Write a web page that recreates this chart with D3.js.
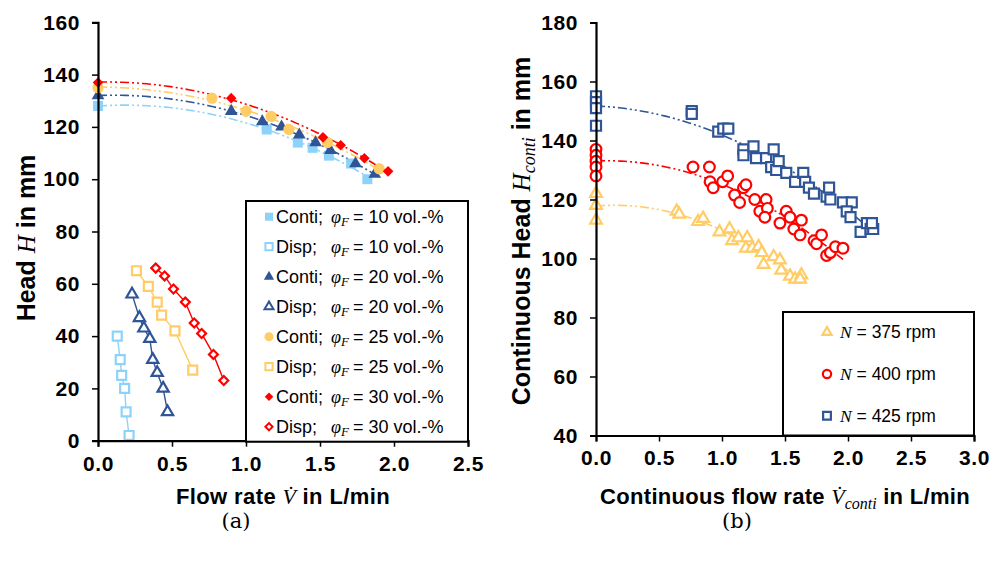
<!DOCTYPE html>
<html>
<head>
<meta charset="utf-8">
<script src="https://cdn.jsdelivr.net/npm/d3@7"></script>
<style>
  body { margin: 0; background: #fff; }
  svg text { font-family: "Liberation Sans", Arial, sans-serif; }
</style>
</head>
<body>
<svg id="drawing_region" width="992" height="565"></svg>
<script>
// ---- panel (a) data ----
const leftXTicks = [0, 0.5, 1.0, 1.5, 2.0, 2.5];
const leftYTicks = [0, 20, 40, 60, 80, 100, 120, 140, 160];

const contiFlow10 = [0, 1.14, 1.35, 1.45, 1.56, 1.71, 1.82];
const contiHead10 = [128, 119, 114, 112, 109, 106, 100];
const contiFlow20 = [0, 0.90, 1.11, 1.24, 1.36, 1.47, 1.57, 1.74, 1.87];
const contiHead20 = [132, 126, 122, 120, 117, 114, 111, 106, 102];
const contiFlow25 = [0, 0.77, 1.00, 1.17, 1.29, 1.55, 1.90];
const contiHead25 = [135, 131, 126, 124, 119, 114, 104];
const contiFlow30 = [0, 0.90, 1.52, 1.64, 1.80, 1.96];
const contiHead30 = [137, 131, 116, 113, 108, 103];

const dispFlow10 = [0.13, 0.15, 0.16, 0.18, 0.19, 0.21];
const dispHead10 = [40, 31, 25, 20, 11, 2];
const dispFlow20 = [0.23, 0.28, 0.31, 0.35, 0.37, 0.40, 0.44, 0.47];
const dispHead20 = [56, 47, 43, 39, 31, 26, 20, 11];
const dispFlow25 = [0.26, 0.34, 0.40, 0.43, 0.52, 0.64];
const dispHead25 = [65, 59, 53, 48, 42, 27];
const dispFlow30 = [0.39, 0.45, 0.51, 0.59, 0.65, 0.70, 0.78, 0.85];
const dispHead30 = [66, 63, 58, 53, 45, 41, 33, 23];

const legendPhi = ["10", "10", "20", "20", "25", "25", "30", "30"];

// ---- panel (b) data ----
const rightXTicks = [0, 0.5, 1.0, 1.5, 2.0, 2.5, 3.0];
const rightYTicks = [40, 60, 80, 100, 120, 140, 160, 180];

const flow375 = [0, 0, 0, 0.64, 0.66, 0.81, 0.85, 0.98, 1.06, 1.08, 1.13, 1.20, 1.19, 1.24, 1.29, 1.315, 1.33, 1.41, 1.46, 1.47, 1.54, 1.58, 1.63, 1.62];
const head375 = [122, 118, 113, 116, 115, 112.5, 113.6, 109, 110, 106, 107, 107, 103.5, 103.5, 104, 102, 98, 100.6, 99.5, 96, 94, 93, 94.4, 93];
const flow400 = [0, 0, 0, 0, 0, 0.77, 0.90, 0.905, 0.93, 1.005, 1.045, 1.10, 1.14, 1.17, 1.19, 1.26, 1.30, 1.35, 1.36, 1.34, 1.46, 1.51, 1.54, 1.57, 1.63, 1.62, 1.73, 1.75, 1.79, 1.83, 1.86, 1.90, 1.96];
const head400 = [137, 135, 133, 131, 128, 131, 131, 126, 124, 126, 128, 121.5, 119, 124, 125, 120, 116, 120, 117, 114, 112, 116, 114, 110, 113, 108, 106, 105, 108, 101, 102, 104, 103.5];
const flow425 = [0, 0, 0, 0, 0.76, 0.76, 0.97, 1.01, 1.05, 1.17, 1.17, 1.25, 1.27, 1.35, 1.39, 1.41, 1.43, 1.45, 1.51, 1.58, 1.645, 1.66, 1.69, 1.73, 1.83, 1.85, 1.86, 1.96, 2.03, 1.99, 2.02, 2.10, 2.15, 2.18, 2.20, 2.19];
const head425 = [155, 153, 151, 145, 150, 149, 143, 144, 144, 137, 135, 138, 134, 134, 131, 137, 130, 133, 129, 126, 129, 126, 124, 122, 121, 124, 120, 119, 119, 116, 114, 109, 112, 110, 110, 112];

const rpmLabels = ["375", "400", "425"];

const lightBlue = "#8DD3F9", darkBlue = "#2F5597", orange = "#FFCC66", red = "#FF0000";
const dashDotDot = "9,3,2,3,2,3";
const mathFont = "Liberation Serif";

const svg = d3.select("#drawing_region");

// least squares quadratic trend line (like an Excel poly-2 trend)
function polyfit2(xs, ys) {
    let s = [0, 0, 0, 0, 0], t = [0, 0, 0];
    xs.forEach((x, i) => {
        let p = 1;
        for (let k = 0; k < 5; k++) { s[k] += p; if (k < 3) t[k] += p * ys[i]; p *= x; }
    });
    const m = [[s[0], s[1], s[2], t[0]], [s[1], s[2], s[3], t[1]], [s[2], s[3], s[4], t[2]]];
    for (let c = 0; c < 3; c++) {
        for (let r = c + 1; r < 3; r++) {
            const f = m[r][c] / m[c][c];
            for (let k = c; k < 4; k++) m[r][k] -= f * m[c][k];
        }
    }
    const b = [0, 0, 0];
    for (let r = 2; r >= 0; r--) {
        let v = m[r][3];
        for (let k = r + 1; k < 3; k++) v -= m[r][k] * b[k];
        b[r] = v / m[r][r];
    }
    return x => b[0] + b[1] * x + b[2] * x * x;
}

function zip(xs, ys) { return xs.map((x, i) => ({x: x, y: ys[i]})); }

function drawAxes(x, y, xTicks, yTicks) {
    const g = svg.append("g");
    g.append("g")
        .attr("transform", `translate(0,${y.range()[0]})`)
        .call(d3.axisBottom(x).tickValues(xTicks).tickFormat(d3.format(".1f")).tickSizeOuter(0).tickSize(6).tickPadding(9));
    g.append("g")
        .attr("transform", `translate(${x.range()[0]},0)`)
        .call(d3.axisLeft(y).tickValues(yTicks).tickFormat(d3.format("d")).tickSizeOuter(0).tickSize(6).tickPadding(12));
    g.selectAll(".domain").attr("stroke", "#000").attr("stroke-width", 2.2);
    g.selectAll(".tick line").attr("stroke", "#000").attr("stroke-width", 1.5);
    g.selectAll(".tick text")
        .attr("fill", "#000")
        .style("font-size", "21px")
        .style("font-weight", "bold")
        .style("letter-spacing", "0.6px");
}

function trend(x, y, xs, ys, color) {
    const f = polyfit2(xs, ys);
    const xmax = d3.max(xs);
    const pts = d3.range(0, 61).map(i => xmax * i / 60);
    svg.append("path")
        .attr("d", d3.line().x(d => x(d)).y(d => y(f(d)))(pts))
        .attr("fill", "none")
        .attr("stroke", color)
        .attr("stroke-width", 1.6)
        .attr("stroke-dasharray", dashDotDot);
}

function markers(x, y, xs, ys, type, size, color, hollow, rotate) {
    svg.append("g").selectAll("path")
        .data(zip(xs, ys))
        .join("path")
        .attr("d", d3.symbol().type(type).size(size))
        .attr("transform", d => `translate(${x(d.x)},${y(d.y)})` + (rotate ? " rotate(45)" : ""))
        .attr("fill", hollow ? "#fff" : color)
        .attr("stroke", hollow ? color : "none")
        .attr("stroke-width", hollow ? 2.2 : 0);
}

function mathSpan(t, txt, size) {
    const s = t.append("tspan").style("font-family", mathFont).style("font-style", "italic")
        .style("font-weight", "normal").style("letter-spacing", "0px").text(txt);
    if (size) s.style("font-size", size);
    return s;
}

// ================= panel (a) =================
const xA = d3.scaleLinear().domain([0, 2.5]).range([98, 468]);
const yA = d3.scaleLinear().domain([0, 160]).range([440.7, 22.3]);

const contiSeries = [
    {xs: contiFlow10, ys: contiHead10, color: lightBlue, type: d3.symbolSquare, size: 100, rot: false},
    {xs: contiFlow20, ys: contiHead20, color: darkBlue, type: d3.symbolTriangle, size: 70, rot: false},
    {xs: contiFlow25, ys: contiHead25, color: orange, type: d3.symbolCircle, size: 100, rot: false},
    {xs: contiFlow30, ys: contiHead30, color: red, type: d3.symbolSquare, size: 56, rot: true}
];
const dispSeries = [
    {xs: dispFlow10, ys: dispHead10, color: lightBlue, type: d3.symbolSquare, size: 80, rot: false},
    {xs: dispFlow20, ys: dispHead20, color: darkBlue, type: d3.symbolTriangle, size: 55, rot: false},
    {xs: dispFlow25, ys: dispHead25, color: orange, type: d3.symbolSquare, size: 80, rot: false},
    {xs: dispFlow30, ys: dispHead30, color: red, type: d3.symbolSquare, size: 40, rot: true}
];

contiSeries.forEach(s => trend(xA, yA, s.xs, s.ys, s.color));
dispSeries.forEach(s => {
    svg.append("path")
        .attr("d", d3.line().x(d => xA(d.x)).y(d => yA(d.y))(zip(s.xs, s.ys)))
        .attr("fill", "none").attr("stroke", s.color).attr("stroke-width", 1.4);
});
contiSeries.forEach(s => markers(xA, yA, s.xs, s.ys, s.type, s.size, s.color, false, s.rot));
dispSeries.forEach(s => markers(xA, yA, s.xs, s.ys, s.type, s.size, s.color, true, s.rot));

drawAxes(xA, yA, leftXTicks, leftYTicks);

// legend (a)
const legA = svg.append("g");
legA.append("rect").attr("x", 246).attr("y", 201).attr("width", 222).attr("height", 240.7)
    .attr("fill", "#fff").attr("stroke", "#000").attr("stroke-width", 2);
legendPhi.forEach((phi, i) => {
    const s = (i % 2 === 0 ? contiSeries : dispSeries)[Math.floor(i / 2)];
    const yy = 216.7 + i * 30;
    legA.append("path")
        .attr("d", d3.symbol().type(s.type).size(s.size * 0.65))
        .attr("transform", `translate(269,${yy})` + (s.rot ? " rotate(45)" : ""))
        .attr("fill", i % 2 === 0 ? s.color : "#fff")
        .attr("stroke", i % 2 === 0 ? "none" : s.color)
        .attr("stroke-width", 2);
    const t = legA.append("text").attr("x", 276).attr("y", yy + 6.5).style("font-size", "18px").attr("fill", "#000");
    t.append("tspan").text(i % 2 === 0 ? "Conti;" : "Disp;");
    mathSpan(t, "φ").attr("x", 331);
    mathSpan(t, "F", "13px").attr("dy", 3);
    t.append("tspan").attr("dy", -3).attr("x", 353).text(`= ${phi} vol.-%`);
});

// axis titles (a)
const xtA = svg.append("text").attr("x", 283).attr("y", 504).attr("text-anchor", "middle")
    .style("font-size", "22px").style("font-weight", "bold").style("letter-spacing", "0.4px").attr("fill", "#000");
xtA.append("tspan").text("Flow rate ");
mathSpan(xtA, "V\u0307");
xtA.append("tspan").text(" in L/min");

const ytA = svg.append("text").attr("transform", "translate(35,238) rotate(-90)").attr("text-anchor", "middle")
    .style("font-size", "25px").style("font-weight", "bold").attr("fill", "#000");
ytA.append("tspan").text("Head ");
mathSpan(ytA, "H");
ytA.append("tspan").text(" in mm");

svg.append("text").attr("x", 236).attr("y", 528).attr("text-anchor", "middle")
    .style("font-family", "DejaVu Serif").style("font-size", "21px").attr("fill", "#000").text("(a)");

// ================= panel (b) =================
const xB = d3.scaleLinear().domain([0, 3]).range([596, 974]);
const yB = d3.scaleLinear().domain([40, 180]).range([435.5, 22.5]);

const rpmSeries = [
    {xs: flow375, ys: head375, color: orange, type: d3.symbolTriangle, size: 60},
    {xs: flow400, ys: head400, color: red, type: d3.symbolCircle, size: 90},
    {xs: flow425, ys: head425, color: darkBlue, type: d3.symbolSquare, size: 100}
];
rpmSeries.forEach(s => trend(xB, yB, s.xs, s.ys, s.color));
rpmSeries.forEach(s => markers(xB, yB, s.xs, s.ys, s.type, s.size, s.color, true, false));

drawAxes(xB, yB, rightXTicks, rightYTicks);

// legend (b)
const legB = svg.append("g");
legB.append("rect").attr("x", 783).attr("y", 312).attr("width", 191).attr("height", 123.5)
    .attr("fill", "#fff").attr("stroke", "#000").attr("stroke-width", 2);
rpmLabels.forEach((n, i) => {
    const s = rpmSeries[i];
    const yy = 332.3 + i * 41.7;
    legB.append("path")
        .attr("d", d3.symbol().type(s.type).size(s.size * 0.6))
        .attr("transform", `translate(827,${yy})`)
        .attr("fill", "#fff").attr("stroke", s.color).attr("stroke-width", 2.2);
    const t = legB.append("text").attr("x", 840).attr("y", yy + 6).style("font-size", "17.5px").attr("fill", "#000");
    mathSpan(t, "N");
    t.append("tspan").text(` = ${n} rpm`);
});

// axis titles (b)
const xtB = svg.append("text").attr("x", 785).attr("y", 504).attr("text-anchor", "middle")
    .style("font-size", "22px").style("font-weight", "bold").style("letter-spacing", "0.3px").attr("fill", "#000");
xtB.append("tspan").text("Continuous flow rate ");
mathSpan(xtB, "V\u0307");
mathSpan(xtB, "conti", "16px").attr("dy", 5);
xtB.append("tspan").attr("dy", -5).text(" in L/min");

const ytB = svg.append("text").attr("transform", "translate(530,231) rotate(-90)").attr("text-anchor", "middle")
    .style("font-size", "25px").style("font-weight", "bold").attr("fill", "#000");
ytB.append("tspan").text("Continuous Head ");
mathSpan(ytB, "H");
mathSpan(ytB, "conti", "18px").attr("dy", 5);
ytB.append("tspan").attr("dy", -5).text(" in mm");

svg.append("text").attr("x", 737).attr("y", 528).attr("text-anchor", "middle")
    .style("font-family", "DejaVu Serif").style("font-size", "21px").attr("fill", "#000").text("(b)");
</script>
</body>
</html>
